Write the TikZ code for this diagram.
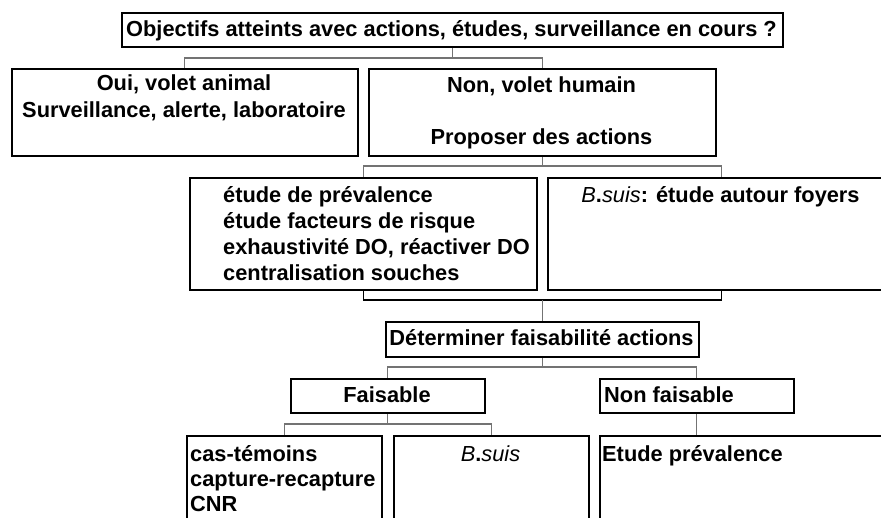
\documentclass[tikz,border=0pt]{standalone}
\usepackage{fontspec}
\setmainfont{Liberation Sans}
\usetikzlibrary{backgrounds}
\begin{document}
\begin{tikzpicture}[x=1pt,y=-1pt,
  box/.style={draw=black,line width=1.6pt,inner sep=0pt,anchor=north west},
  conn/.style={draw=black!55,line width=1.1pt},
  brk/.style={draw=black,line width=1.5pt},
  txt/.style={inner sep=0pt,font=\fontsize{21.8}{26}\selectfont\bfseries},
  ctxt/.style={txt,anchor=base},
  ltxt/.style={txt,anchor=base west},
]
\useasboundingbox (0,0) rectangle (881,518);

% boxes
\node[box,minimum width=661pt,minimum height=34pt]  (top)   at (121,12)  {};
\node[box,minimum width=346pt,minimum height=87pt]  (oui)   at (11,68)   {};
\node[box,minimum width=347pt,minimum height=87pt]  (non)   at (368,68)  {};
\node[box,minimum width=347pt,minimum height=112pt] (etude) at (189,177) {};
\node[box,minimum width=347pt,minimum height=112pt] (bsuis) at (547,177) {};
\node[box,minimum width=313pt,minimum height=35pt]  (det)   at (385,321) {};
\node[box,minimum width=194pt,minimum height=34pt]  (fais)  at (290,378) {};
\node[box,minimum width=194pt,minimum height=34pt]  (nfais) at (599,378) {};
\node[box,minimum width=195pt,minimum height=100pt] (cas)   at (186,435) {};
\node[box,minimum width=195pt,minimum height=100pt] (bs2)   at (393,435) {};
\node[box,minimum width=290pt,minimum height=100pt] (prev)  at (599,435) {};

% texts
\node[ctxt] (t0) at (451.5,37) {Objectifs atteints avec actions, études, surveillance en cours ?};
\node[ctxt] (t1a) at (184,91) {Oui, volet animal};
\node[ctxt] (t1b) at (184,118) {Surveillance, alerte, laboratoire};
\node[ctxt] (t2a) at (541.5,93) {Non, volet humain};
\node[ctxt] (t2b) at (541.5,145) {Proposer des actions};
\node[ltxt] (t3a) at (223,203) {étude de prévalence};
\node[ltxt] (t3b) at (223,229) {étude facteurs de risque};
\node[ltxt] (t3c) at (223,255) {exhaustivité DO, réactiver DO};
\node[ltxt] (t3d) at (223,281) {centralisation souches};
\node[ctxt] (t4) at (720.5,203) {{\mdseries\itshape B}.{\mdseries\itshape suis}: étude autour foyers};
\node[ctxt] (t5) at (541.5,346) {Déterminer faisabilité actions};
\node[ctxt] (t6) at (387,403) {Faisable};
\node[ltxt] (t7) at (604,403) {Non faisable};
\node[ltxt] (t8a) at (190,461) {cas-témoins};
\node[ltxt] (t8b) at (190,486) {capture-recapture};
\node[ltxt] (t8c) at (190,511) {CNR};
\node[ctxt] (t9) at (490.5,461) {{\mdseries\itshape B}.{\mdseries\itshape suis}};
\node[ltxt] (t10) at (602,461) {Etude prévalence};

% connectors
\begin{scope}[on background layer]
\fill[white] (0,0) rectangle (881,518);
\coordinate (j1) at (top.south |- 0,58);
\draw[conn] (top.south) -- (j1) -| (oui.north);
\draw[conn] (j1) -| (non.north);
\coordinate (j2) at (non.south |- 0,166);
\draw[conn] (non.south) -- (j2) -| (etude.north);
\draw[conn] (j2) -| (bsuis.north);
\coordinate (j3) at (non.south |- 0,300);
\draw[brk] (etude.south) |- (j3) -| (bsuis.south);
\draw[conn] (j3) -- (det.north);
\coordinate (j4) at (det.south |- 0,367);
\draw[conn] (det.south) -- (j4) -| (fais.north);
\draw[conn] (j4) -| (nfais.north);
\coordinate (j5) at (fais.south |- 0,424);
\draw[conn] (fais.south) -- (j5) -| (cas.north);
\draw[conn] (j5) -| (bs2.north);
\draw[conn] (nfais.south) -- (nfais.south |- prev.north);
\end{scope}
\end{tikzpicture}
\end{document}
